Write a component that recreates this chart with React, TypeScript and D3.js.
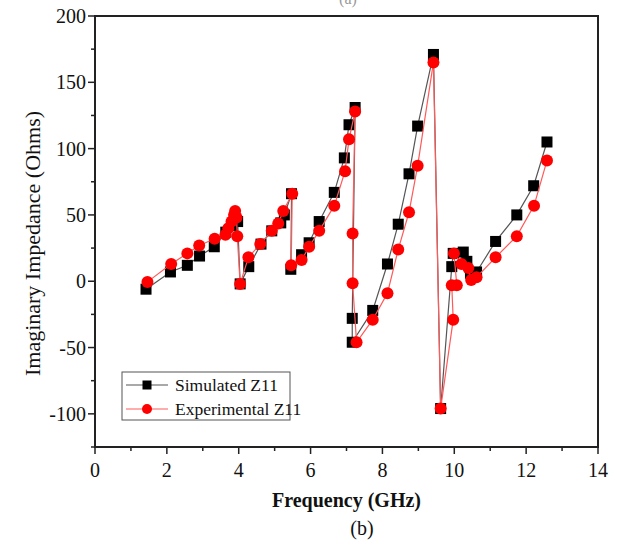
import React from 'react';
import * as d3 from 'd3';

// Simulated Z11, [GHz, Ohms]
const simulated: [number, number][] = [
  [1.42, -6], [2.1, 7], [2.57, 12], [2.91, 19], [3.32, 26], [3.64, 37], [3.82, 42], [3.97, 45],
  [4.04, -2], [4.28, 11], [4.62, 28], [4.92, 38], [5.17, 44], [5.27, 50], [5.47, 66],
  [5.45, 9], [5.75, 20], [5.96, 29], [6.24, 45], [6.66, 67], [6.94, 93], [7.07, 118], [7.24, 131],
  [7.16, -28], [7.16, -46], [7.73, -22], [8.14, 13], [8.44, 43], [8.74, 81], [8.98, 117], [9.42, 171],
  [9.62, -96], [9.93, 11], [9.97, 21], [10.25, 22], [10.35, 15], [10.45, 6], [10.62, 7],
  [11.15, 30], [11.74, 50], [12.21, 72], [12.58, 105],
];

// Experimental Z11, [GHz, Ohms]
const experimental: [number, number][] = [
  [1.46, -0.5], [2.12, 13], [2.57, 21], [2.9, 27], [3.33, 32], [3.63, 35], [3.71, 40], [3.8, 45],
  [3.87, 50], [3.9, 53], [3.94, 48], [3.96, 34], [4.04, -2], [4.27, 18], [4.6, 28], [4.92, 38],
  [5.1, 43.5], [5.24, 53], [5.49, 66], [5.46, 12], [5.75, 16], [5.96, 26], [6.24, 38], [6.66, 57],
  [6.96, 83], [7.07, 107], [7.24, 128], [7.17, 36], [7.17, -1.5], [7.28, -46], [7.73, -29],
  [8.14, -9], [8.44, 24], [8.74, 52], [8.98, 87], [9.42, 165], [9.62, -96], [9.97, -29],
  [9.93, -3], [10.07, -3], [9.99, 21], [10.2, 13], [10.39, 10], [10.47, 1], [10.62, 3],
  [11.15, 18], [11.74, 34], [12.22, 57], [12.58, 91],
];

const xTicks = [0, 2, 4, 6, 8, 10, 12, 14];
const xMinor = [1, 3, 5, 7, 9, 11, 13];
const yTicks = [-100, -50, 0, 50, 100, 150, 200];
const yMinor = [-125, -75, -25, 25, 75, 125, 175];
const legendLabels = ['Simulated Z11', 'Experimental Z11'];

const font = '"Liberation Serif", "DejaVu Serif", serif';

export default function App() {
  const left = 95, right = 598, top = 16, bottom = 447;

  const x = d3.scaleLinear().domain([0, 14]).range([left, right]);
  const y = d3.scaleLinear().domain([-125, 200]).range([bottom, top]);

  const line = d3.line<[number, number]>()
    .x((d) => x(d[0]))
    .y((d) => y(d[1]));

  const sq = 11;
  const r = 6;

  return (
    <svg width={633} height={546} style={{ position: 'absolute', left: 0, top: 0, background: '#fff' }}
      fontFamily={font}>
      <rect x={0} y={0} width={633} height={546} fill="#fff" />
      {/* cropped caption of the panel above */}
      <text x={348} y={4} textAnchor="middle" fontSize={16} fill="#999">(a)</text>

      {/* series */}
      <path d={line(simulated) || ''} fill="none" stroke="#555" strokeWidth={1.2} />
      {simulated.map((d, i) => (
        <rect key={`s-${i}`} x={x(d[0]) - sq / 2} y={y(d[1]) - sq / 2} width={sq} height={sq} fill="#000" />
      ))}
      <path d={line(experimental) || ''} fill="none" stroke="#ff5a5a" strokeWidth={1.2} />
      {experimental.map((d, i) => (
        <circle key={`e-${i}`} cx={x(d[0])} cy={y(d[1])} r={r} fill="#ff0000" />
      ))}

      {/* frame */}
      <rect x={left} y={top} width={right - left} height={bottom - top} fill="none" stroke="#222" strokeWidth={2} />

      {/* x axis */}
      {xTicks.map((t) => (
        <g key={`xt-${t}`}>
          <line x1={x(t)} x2={x(t)} y1={bottom} y2={bottom + 7} stroke="#222" strokeWidth={1.5} />
          <text x={x(t)} y={bottom + 30} textAnchor="middle" fontSize={20} fill="#111">{t}</text>
        </g>
      ))}
      {xMinor.map((t) => (
        <line key={`xm-${t}`} x1={x(t)} x2={x(t)} y1={bottom} y2={bottom + 4} stroke="#222" strokeWidth={1.5} />
      ))}

      {/* y axis */}
      {yTicks.map((t) => (
        <g key={`yt-${t}`}>
          <line x1={left - 7} x2={left} y1={y(t)} y2={y(t)} stroke="#222" strokeWidth={1.5} />
          <text x={left - 9} y={y(t) + 7} textAnchor="end" fontSize={20} fill="#111">{t}</text>
        </g>
      ))}
      {yMinor.map((t) => (
        <line key={`ym-${t}`} x1={left - 4} x2={left} y1={y(t)} y2={y(t)} stroke="#222" strokeWidth={1.5} />
      ))}

      {/* titles */}
      <text x={(left + right) / 2} y={507} textAnchor="middle" fontSize={20} fontWeight="bold" fill="#111">
        Frequency (GHz)
      </text>
      <text transform={`translate(40,${(top + bottom) / 2 + 12}) rotate(-90)`} textAnchor="middle" fontSize={22} fill="#111">
        Imaginary Impedance (Ohms)
      </text>
      <text x={362} y={535} textAnchor="middle" fontSize={20} fill="#111">(b)</text>

      {/* legend */}
      <rect x={122} y={372} width={168} height={48} fill="#fff" stroke="#555" strokeWidth={1} />
      <g>
        <line x1={126} x2={168} y1={385} y2={385} stroke="#555" strokeWidth={1.2} />
        <rect x={147 - 4.5} y={385 - 4.5} width={9} height={9} fill="#000" />
        <text x={175} y={391} fontSize={17.5} fill="#111">{legendLabels[0]}</text>
      </g>
      <g>
        <line x1={126} x2={168} y1={409} y2={409} stroke="#ff5a5a" strokeWidth={1.2} />
        <circle cx={147} cy={409} r={5} fill="#ff0000" />
        <text x={175} y={415} fontSize={17.5} fill="#111">{legendLabels[1]}</text>
      </g>
    </svg>
  );
}
